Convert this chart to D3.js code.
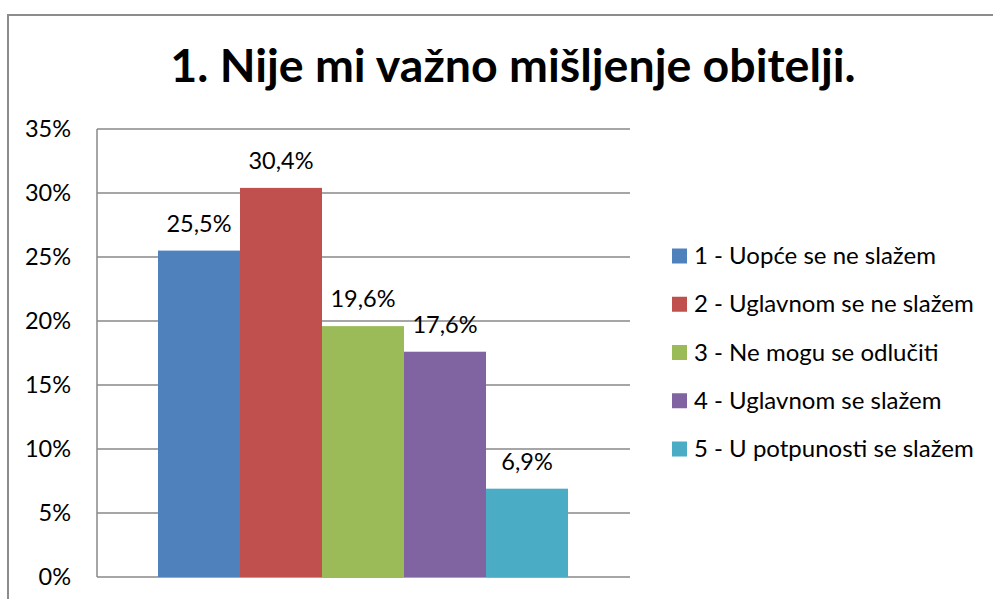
<!DOCTYPE html>
<html>
<head>
<meta charset="utf-8">
<script src="https://cdn.jsdelivr.net/npm/d3@7"></script>
<style>
  body { margin: 0; background: #fff; }
  svg { display: block; font-family: Lato, "Open Sans", sans-serif; }
</style>
</head>
<body>
<svg id="chart" width="993" height="599"></svg>
<script>
// ===============================
// Podaci
// ===============================
const title = "1. Nije mi važno mišljenje obitelji.";
const seriesNames = [
  "1 - Uopće se ne slažem",
  "2 - Uglavnom se ne slažem",
  "3 - Ne mogu se odlučiti",
  "4 - Uglavnom se slažem",
  "5 - U potpunosti se slažem"
];
const seriesValues = [25.5, 30.4, 19.6, 17.6, 6.9];
const seriesColors = ["#4f81bd", "#c0504d", "#9bbb59", "#8064a2", "#4bacc6"];
const yTicks = [0, 5, 10, 15, 20, 25, 30, 35];

const svg = d3.select("#chart");

// okvir grafikona
svg.append("rect")
  .attr("x", 8)
  .attr("y", 15)
  .attr("width", 1000)
  .attr("height", 600)
  .attr("fill", "white")
  .attr("stroke", "#8c8c8c")
  .attr("stroke-width", 2);

// ===============================
// Naslov
// ===============================
svg.append("text")
  .attr("x", 513)
  .attr("y", 82)
  .attr("text-anchor", "middle")
  .style("font-size", "46.5px")
  .style("font-weight", "bold")
  .style("fill", "#000")
  .text(title);

// ===============================
// Skale
// ===============================
const plot = { left: 97, right: 630, top: 129, bottom: 577 };

const y = d3.scaleLinear()
  .domain([0, 35])
  .range([plot.bottom, plot.top]);

const x = d3.scaleBand()
  .domain(seriesNames)
  .range([158, 568])
  .padding(0);

// mreža
svg.append("g")
  .selectAll("line")
  .data(yTicks)
  .enter()
  .append("line")
  .attr("x1", plot.left)
  .attr("x2", plot.right)
  .attr("y1", d => y(d))
  .attr("y2", d => y(d))
  .attr("stroke", "#898989")
  .attr("stroke-width", 1.5);

// os y
svg.append("line")
  .attr("x1", plot.left)
  .attr("x2", plot.left)
  .attr("y1", plot.top)
  .attr("y2", plot.bottom)
  .attr("stroke", "#898989")
  .attr("stroke-width", 1.5);

svg.append("g")
  .selectAll("text")
  .data(yTicks)
  .enter()
  .append("text")
  .attr("x", 71)
  .attr("y", d => y(d) + 8)
  .attr("text-anchor", "end")
  .style("font-size", "23.5px")
  .style("fill", "#000")
  .text(d => d + "%");

// ===============================
// Stupci
// ===============================
svg.append("g")
  .selectAll("rect")
  .data(seriesValues)
  .enter()
  .append("rect")
  .attr("x", (d, i) => x(seriesNames[i]))
  .attr("y", d => y(d))
  .attr("width", x.bandwidth())
  .attr("height", d => plot.bottom - y(d))
  .attr("fill", (d, i) => seriesColors[i]);

svg.append("g")
  .selectAll("text")
  .data(seriesValues)
  .enter()
  .append("text")
  .attr("x", (d, i) => x(seriesNames[i]) + x.bandwidth() / 2)
  .attr("y", d => y(d) - 19)
  .attr("text-anchor", "middle")
  .style("font-size", "23.5px")
  .style("fill", "#000")
  .text(d => d.toFixed(1).replace(".", ",") + "%");

// ===============================
// Legenda
// ===============================
const legend = svg.append("g")
  .selectAll("g")
  .data(seriesNames)
  .enter()
  .append("g")
  .attr("transform", (d, i) => `translate(672, ${256 + i * 48.25})`);

legend.append("rect")
  .attr("x", 0)
  .attr("y", -7.5)
  .attr("width", 15)
  .attr("height", 15)
  .attr("fill", (d, i) => seriesColors[i]);

legend.append("text")
  .attr("x", 22)
  .attr("y", 8)
  .style("font-size", "24px")
  .style("fill", "#000")
  .text(d => d);
</script>
</body>
</html>
